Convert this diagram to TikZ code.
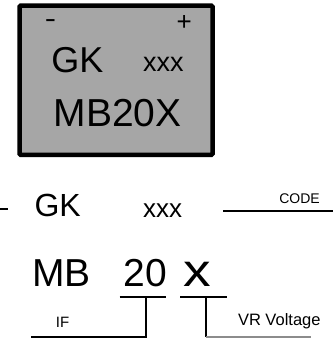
\documentclass[tikz,border=0pt]{standalone}
\usepackage{fontspec}
\setmainfont{Liberation Sans}
\definecolor{boxgray}{HTML}{A6A6A6}
\definecolor{linegray}{HTML}{8C8C8C}
\newcommand{\fs}[1]{\fontsize{#1}{#1}\selectfont}
\begin{document}
\begin{tikzpicture}[x=1pt,y=-1pt,
  txt/.style={anchor=base west,inner sep=0pt,outer sep=0pt,text=black},
  rule/.style={line width=2pt,line cap=butt},
  thinrule/.style={line width=1.5pt,color=linegray}]
\useasboundingbox (0,0) rectangle (336,338);
% chip body
\draw[line width=4.5pt,fill=boxgray,rounded corners=1pt] (19.7,5.7) rectangle (212.5,154.8);
\node[txt] (minus) at (45,27.5) {\fs{26}\scalebox{1.3}[1]{-}};
\node[txt] (plus) at (176.5,30.5) {\fs{26}+};
\node[txt] (gk1) at (51.3,72) {\fs{36}GK};
\node[txt] (xxx1) at (143,71.7) {\fs{27}xxx};
\node[txt] (mb1) at (53.8,126.7) {\fs{39}MB20X};
% legend
\coordinate (dashA) at (0,208.5);
\coordinate (dashB) at (7.5,208.5);
\draw[rule] (dashA) -- (dashB);
\node[txt] (gk2) at (34.5,216.7) {\fs{32}GK};
\node[txt] (xxx2) at (143,217) {\fs{26}xxx};
\coordinate (codeA) at (223,210.5);
\coordinate (codeB) at (333,210.5);
\draw[rule] (codeA) -- (codeB);
\node[txt] (code) at (279.3,203.3) {\fs{14}CODE};
\node[txt] (mb2) at (32,286.5) {\fs{39}MB};
\node[txt] (n20) at (123.8,286.5) {\fs{39}20};
\node[txt] (xv) at (183,286.5) {\fs{46}\scalebox{1.2}[1]{x}};
% callouts
\coordinate (u20a) at (119.5,296.5);
\coordinate (u20b) at (166,296.5);
\coordinate (v20t) at (145.5,296.5);
\coordinate (v20b) at (145.5,337);
\coordinate (ifend) at (31,337);
\draw[rule] (u20a) -- (u20b);
\draw[rule] (v20t) -- (v20b);
\draw[rule] (ifend) -- ([xshift=1pt]v20b);
\coordinate (uxa) at (180,296.5);
\coordinate (uxb) at (227,296.5);
\coordinate (vxt) at (206,296.5);
\coordinate (vxb) at (206,337);
\coordinate (vrend) at (311,337);
\draw[rule] (uxa) -- (uxb);
\draw[rule] (vxt) -- (vxb);
\draw[thinrule] (vxb) -- (vrend);
\node[txt] (if) at (56,327.7) {\fs{15}IF};
\node[txt] (vr) at (238,325) {\fs{16.5}VR Voltage};
\end{tikzpicture}
\end{document}
